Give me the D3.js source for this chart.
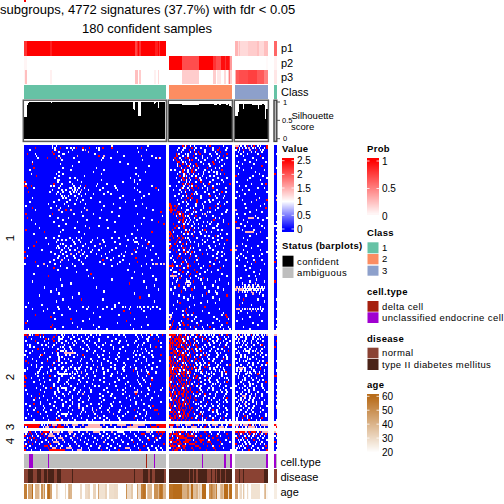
<!DOCTYPE html>
<html><head><meta charset="utf-8">
<style>html,body{margin:0;padding:0;background:#fff}svg{display:block}text{font-family:"Liberation Sans",Arial,sans-serif;fill:#000}</style>
<script src="https://cdnjs.cloudflare.com/ajax/libs/d3/7.8.5/d3.min.js"></script></head><body>
<div id="c"></div>
<script>
const titleLines=["subgroups, 4772 signatures (37.7%) with fdr < 0.05","180 confident samples"];
const sliceLabels=["1","2","3","4"];
// run-length lists: [value,count]
const p1G1=[[.8,2],[1,18],[.88,1],[1,63],[.72,1],[.85,1],[1,1],[.8,1],[1,11],[.88,2],[1,1],[.8,1],[1,4]];
const p2G1=[[.04,2],[0,105]];
const p3G1=[[.05,1],[.25,1],[0,18],[.06,1],[0,63],[.25,2],[0,1],[.2,1],[0,10],[.06,2],[0,1],[.15,1],[0,4]];
const p1G2=[[0,48]];
const p2G2=[[1,10],[.7,13],[1,11],[.8,2],[.7,4],[.95,3],[.8,1],[.95,2],[.8,1],[.4,1]];
const p3G2=[[0,10],[.2,13],[0,11],[.2,2],[0,1],[.1,3],[0,2],[.15,2],[0,1],[.2,1],[.5,1],[.2,1]];
const p1G3=[[.3,2],[.15,1],[.25,1],[.15,6],[.2,7],[.25,1],[.15,4],[.25,3]];
const p2G3=[[0,24],[.02,1]];
const p3G3=[[.3,1],[.65,2],[.7,7],[.75,7],[.65,5],[.5,3]];
const pSide=[.6,.05,.1];
const silG1=[[.6,2],[.93,1],[.96,1],[.99,16],[.97,1],[.99,61],[.82,1],[.78,1],[.99,2],[.62,2],[.99,10],[.95,1],[.97,1],[.99,1],[.85,1],[.99,4]];
const silG2=[[.95,10],[.93,13],[.95,11],[.92,3],[.95,1],[.92,2],[.95,3],[.92,2],[.95,1],[.9,1],[.87,1]];
const silG3=[[.62,2],[.72,1],[.95,3],[.8,1],[.95,6],[.92,4],[.8,1],[.92,3],[.95,1],[.92,1],[.55,1],[.82,1]];
const cellG1=[4,5,6,18,98];const cellG1Delta=[92];
const cellG2=[25,42,43,47];const cellG3=[24];
const diseaseDarkG1=[3,4,5,6,10,11,12,15,16,18,19,20,21,22,25,26,27,36,83,90,91,92,93,95,96,99,100,101,102,103,104,105];
const diseaseNormalG2=[15,18,21,29,30,31,33,34,36,39,43];
const diseaseDarkG3=[3,6,22,23,24];
const ageG1=[55,55,20,45,45,45,60,20,40,40,40,30,20,50,35,50,20,55,60,58,45,20,20,20,32,30,22,20,20,20,20,31,20,38,42,40,20,20,20,20,20,20,30,30,20,20,30,30,32,32,20,20,32,32,20,20,45,28,28,28,28,32,32,20,29,29,29,29,30,30,30,20,20,20,20,20,20,50,30,30,30,35,20,20,20,45,30,30,55,55,58,55,20,35,40,40,40,20,50,50,50,40,55,58,55,40,40];
const ageG2=[58,58,58,60,60,60,60,60,60,60,42,42,42,42,50,35,35,60,38,38,38,42,30,35,30,60,60,60,20,20,20,50,55,50,45,40,55,25,25,38,42,35,60,60,60,30,58,60];
const ageG3=[45,45,20,25,30,20,35,25,20,30,22,20,28,28,28,28,28,28,28,20,20,20,35,40,22];
// heat cells: token = column or column range, default value ~1 (white); r = high (red), p = raised (pale salmon)
const heatS1G1=["21 24 66 93","8r 21 23 27r 32 35 37 39r 44r 49r 54 56 59r 66r 85 88r","4 23 24r 36 44 46p 56 92","21r 33 26 48p 70 86","2r 8 22r 30 53 29","9 26 40p 56r 60p 75 88p 96","10 17r 24r 27p 37 59 65 99 101r 102","58 28 89","6 72 41","6r 78 27","36 94","7r 54 29 84","60 4 35","91 26 52","24 29 5 58 84","9r 45 26 86","23 38 80 34","25 40 87 26 58 83","0r 34 25 43 74 83","1 22r 36 28 55 85 62","0r 1r 5r 20 27 22 42 37 46r 54 96 68","2r 7 35 26 41 34 45 38 59 83 99r 69","36 21 43p 28 40 31 48 38 57 70 85 101","3r 42 19 34 29 25 39 63 37 87","27 41 24 35 60 52 46 65 94","38 28 43 30 74 33 90","6 40 29 31 88 50 72","39 26 44 83 34","4 42 22 32 76 57","30 38 18 46 67 89","1 24 60 33 84","6r 45 27 92 20 72","26p 8 31r 58 47p 35p 97","103r 28 66 43","21r 1r 85 37 52","19 71 44 104","2r 25 57 33 90","5 62 29 47 96","22 101r 40 68","88 8 31 105r","56 26 83 46","63 11 38 49p","29 1r 85","96r 15r 68 27 41","45 7 81","76 26","22 39 66 43 55 84 34 16 71 88","31 25 59 41 82 28 51 91 36 78","83-85 37 9r 68 24 50 60 42 94","57p 18 29 72 86 46 27 38 93r","7r 44 61 25 77 35 89 53 31 97","40 24 85 30 58 3 69 48 33 92 26","51 28 83r 13 38 95 66 34 56 43","41p 20 76 31 64 50 0r 45 84 27","81p 23 39 73 29 61 99 44 35p 54","32 71 2 47 26 91 58 37 75 42","84r 46 25 67 0r 38 101 30 62","59r 28p 41 96 22 74 33 65","8r 19 43 72 27 85r 57","0 100p 44 15p 92 36 14p 79 23 105p 99p 103 70 60 97","17 66 27 88 38 10","32 95 22r","78 25 47","39 83","7 89 50r","48 18r 97","52 81","66 27 99","6 90","79r 35","28 98","15 54 92","101 24","60 20","83 26 41","11 94","87r 36","29 59 43r","98 24","71 3","13 68","33 80 1 55 44 90 25 68 97 76 48 100 62 85 87 93 74","88 17 26 47 66 6 34 102 59 95 79","39 90 14 75r","52 22 80r","28 8r 71","57 20r 92","23 83 49 35r","77r 2 44","1r 70 36","21r 93 52 80","40 56 88 20r 29","62 3 82 23 54 43","86 0r 31 60"];
const heatS1G2=["10r 12 13r 19 31r","24 12 38r 11 17r 44","15r 33 10 37r","39r 19r 16 27","5r 20 12 36 23r 7","41r 6r 5r 14 18r 32","8 4r 25 14r 37","22 5r 9 17r 35 40","33r 7r 6r 15r 12","42 10r 6 20r 30 16","21r 8r 14r 31 15","29r 12r 9 38 18r","40r 11 1 17r 32 10r 20","26 19r 14 10r 34","42r 15p 18 12r 22 36 11","31 8r 17 13 25","23 13r 44 10r 15p 20r","33 11r 22r 9 16","41 15 24r 13","46r 17r 30r 14r 10r 36","0 27 15p 11 20r","43 9r 33r 14 17r 25","18r 12r 8 29","40r 20 9 34","21 13r 17r 38","31r 10 42 16r 24","14r 17r 36","21r 12r 30","44 21r 13 27","0r 37 14 25","6r 0r 39r 4r 1r 20","5r 31r 16 1r 26","0r 19r 4r 2r 35 1r 13","6-7r 29 1r 18 9r 43","3r 10r 5r 25 7r 15r 27p","8r 33 20r 10r 12","11r 6r 38 19","34r 8r 10r 16","15p 10r 29 41 12 18","45r 3r 31 11 22","5-6r 11r 36 25","16r 4r 11r 33 19","27r 2r 37 18r 12 15","14r 12r 0r 28 3 23","1r 39 17 11","35r 9r 0r 2r 18r 30","7r 14 33 3r 10r","44r 0r 6r 25 15 37","13r 5r 27 16","42 4r 10r 22 0","1r 35 16r 9","12r 31 0r 18","47r 3r 15p 28 7","11r 0 17r 5r 40 13r","25r 8 36 16","7r 16r 33 2 40 20","9r 6r 22r 36 1 15r","35r 12 43 3 21","19r 4 31 10r 38 13","14r 34 2r 22 9","0-3r 31r 8r 5 16r 14p 41 26 6","39r 14r 2 24 11","19r 8r 37 1 29","21r 3-5 10r 32 14 27","16r 2r 40 7 23 13","1-5p 15r 44 20 9","26r 8r 16 3 22","24 38 6 13 29","18r 35 5 13-15","45 12p 2 25 16","7r 14 33 15p","37 11 27 4 19","17r 41 1 12","35 9r 30","28r 3 36","44r 16 7 25","33 18 11","38 14","29 6","8r 35 24","19 3","27r 15","13r 38 5","12r 25 10","18r 41 2 13r 30","43r 0-1 40 14 17 10","44r 11r 34 1p 20","14r 45 0p 36 19","3r 38 17 24 9","44r 2r 21 10r 33 7","22r 8 14r 40 0 2r 11r 29","31r 39 1r 16 6r 45 19r 25","12r 34 0r 20 5r 41 8 46 26"];
// further cells read from the top of cluster 1, group 2
const heatS1G2More=["16 28 41","7 20 33","19 27 43 6","22r 9 35","31 14 44r","10 25 38","20 12r 29 44","15 27 3","24 38 10","13 34r 26","18 40 6","22 35 16","27 4 14","8 36 30 17r","26 6 39","20 34 11","28 5 37","13 24 40","7 31 20","26 12 38","17 33 5","10 29 22r","36 15 3","27 12 43","7 19 30","35 13 4","24 9 41","16 33 6","31 10 38","20 7 42","13 26 35r","9 37 18","24 14 44","31 20 12","17 40 8","28 14 5","35 15 23","41 21 13","26 7 32","14 37 19","9r 28 17","34 22 7","13 40 25","19 32 9","24 14 44","37 6 27","21 12 40","15 29 9r","34 19 8","13 25 38","22 6 30","41 16 10r","33 23 11","19 37 14","29 12 42"];
const heatS1G3=["0-2p 4 7 9r 12 14r 17 19 24r","1r 3 5 8 10p 13 15 18 22 24r","6r 0 16r 19 3 11p 21","12 2 20 6 15","17 4 9","19r 6 1","13 21","7 16","23 2 11","14 5","20r 1","12 3","22 6","15","2 18","21 0r 13","11 24","19 9","1","20 23r 12","8 3","22 17","10 5","24 1","15 7","3","18 0","5 24r 16p","12","22 7","19","8 23r","0p 16","20 11","7 1","15","2 10-13p 24 17","21 6","9 0r","18 4","20 7 12","1-3p 22","14 5","8-13p 19p","16","11","24 6","9","20","5","1p 17 8","12","0p 19 6","24 9","4 20","6 13 2 18","8 1","20 3 14","15r 9","12 22","7 1","11","8 19","14","18","15 10","4","16 2","22 11","15p 5","7 13 17 10","1p 3 5 7 9 11p 13 16 18p 20 22","0p 2 3-5p 6 8 10 11 12 14 15 17 19 21","2p 5 7 9 12p 16 19","18 13p","8 21","3","6r 17","22","5","3r 12","19","1-3p 5 7 9p 11 13 15 17 19 21","4 12p 16p 20","9 2","18","11","5","1 20","13","17","6","11"];
const heatS2G1=["0r 1r 3r 4 6 8r 9r 10r 12r 14r 24r 28 30 36 46 50 54 67 75 84 88 92 95r 100 104r","2r 14 22r 63 29 43 37 89 52 85 94","93 21r 5 26-28 47 86 98r 16r","56 1 101r 8r 31 72 84 26 44 22r","83 18 36 28 61 53 103 39","22 2 47 30 95 86 4 59 16","99r 27 7 48 85 29 74 42 21","44 10r 25 91 67 35","1 60 24r 27-29 83 36 85 96","82 30-37p 15 52 4 89","13r 44r 25 87 103r 31 0 59 84","19 37 90 56 28 2 71","43 86 6 26 69 30","1r 17r 63 24r 35 84 102 51","28 97 3r 13 65 40","58 5 21r 36 83 76","29 100 47 9 55p 80 18","41 2 74 23 84 59 33","82r 20 0 54 39 92","85 43p 10 60 25 36 99","26-32 94r 8 47 73","0r 19r 65 28 46p 41 86","89 1r 5 44 35 70 37","26 96r 57 11 85","78 0r 42 25 7 91","64 12 33 87","95r 0r 27 53 80 22","20r 28-31 104 62 9 83","37 74 1 25 85 50 103","83-85p 41 98 23 63 26","84r 2 44p 11r 29 57","101 5 36 65 24 86","8r 77 21 49 42 83","34 95 17 48","103 58 23 31","7r 84 50 19 1 36","97r 22 66 4 47 80 29","51 95 8 33 41p 76","83r 98-100r 2 44 27 54p 14 63","10r 71 25 85 46 52p 64p","28-32 87 101r 3 67p 42","84 40 5 55p 26 70","27r 89 62 1 83r 36 53","24r 25r 91 7 60 33 72 47"];
const heatS2G1More=["40 57 71 96","33 76 12 48 101 26","41 69 18 92 56 35","49 15 93 38 66 77","24 71 10 45 90 33","65 37 78 13 54 89","34 95 56 18 67 103 4","30 14 72 49 88 58","47 6 76 92 53 31","64 25 38 94 71 21","40 70 12 55 96 34","26 64 45 82 11 97","50 33 17 78 60 92","42 70 9 26 92 55","22 47 75 31 88 58","43 9 68 26 94 52","35 75 13 65 91 42","28 50 96 12 68 38","46 11 75 31 63 88","52 17 70 30 93 40","38 60 14 85 66 34","53 10 77 23 92 36","60 26 14 96 48 75","41 71 19 33 90 52","32 60 15 86 47 68","40 22 76 51 95 30","35 69 14 88 45 56","49 16 76 38 93 25","60 31 12 94 42 70","34 76 15 50 88 45","40 66 23 93 74 33","48 14 79 30 59 91","26 57 36 68 96 11","28 60 80 41 7 88","44 67 12 84 36 72","29 65 41 90 12 56","34 58 14 73 94 41","24 64 44 86 15 57","36 72 20 90 51 7","33 58 16 92 43 78","24 53 76 92 12 35","31 60 17 48 91 74","43 24 71 14 57 95","38 64 18 85 51 28"];
const heatS2G2=["0-4r 6 8-9r 12 15r 17 21r 24 30 34 38r 44r","0 2-3r 5r 7r 11-12r 16 20 23r 28 36 45","1r 4r 6-8r 10 12r 18r 14 25 39r 31","0r 2r 7-9r 15r 11 21 29r 33 41","1-3r 6r 8r 10r 13 16r 19 44 30","0r 4-5r 9 12r 14r 20r 18 27 38","2r 6-7r 10r 13r 15 42r 25","0-1r 5 11r 17r 14 32 23 40","3-4r 6 9r 18r 24r 12 35 45r","1-2r 5r 8r 13r 10 26 39 15","3r 7r 9-11r 27r 14 21 37","2r 6r 10r 12r 16r 4 29 44 19","0r 5r 13r 15r 41r 8 25 34","3r 7r 9r 14r 22r 6 17 40","0r 2r 4r 30r 12 20 35 10","1r 5r 8r 11r 18r 46r 13 26 37 21","6r 12r 14r 27r 3 19 39 9","0r 4r 7r 10r 17r 2 23 34","1r 5r 15r 25r 11 38 20 8","3r 6r 9r 16r 43r 14 28","2r 4r 10r 13r 7 19 30 40","1r 8r 11r 21r 5 32 15","0r 3r 6r 14r 29r 18 42 23","2r 7r 9r 16r 13 27 45","5r 8r 15r 44r 1 31 19","0r 11r 13r 22r 6 35 17","2r 4r 7r 12r 18r 38 14 24","1r 5r 9r 16r 10 33 47","6r 11r 13r 23r 3 29 43","0r 7r 14r 17r 2 25 40","1r 4r 9-10r 27r 18 35","3r 6r 13r 16r 5 42 22","2r 8r 12r 14r 19r 44r 0 30","4r 7r 15r 1 26 38 10","3r 5r 11r 13r 29r 41 18","0r 6r 8r 14r 32 20 12","2r 7r 10r 15r 27 4 37","1r 5r 9r 13r 17r 22 43","6r 8r 12r 16r 33r 0 30","2r 4r 15r 18r 7 36 26","3r 5r 9r 11r 23r 19 39","0r 6r 12r 14r 25r 31 8","1r 4r 7r 10r 13r 28r 41r 20","3r 9r 15r 22r 33r 0 27 46"];
const heatS2G2More=["13r 27 40 18 32","25r 9r 33 14 42","19 5r 37 27r 43","4r 12r 19r 36 25 46","11r 22 34 39 5r","16r 7r 31 2r 43","21r 0r 34 9r 28 45","3r 13r 20 37 26","15r 7r 21 31 42","19r 4r 28 36 12r","16r 5r 24 43 30","13r 0r 23r 36 41","20r 3r 30 10r 44","11r 1r 26 33 19r","6r 15r 27 39 23","3r 16r 30 44 24","10r 1r 23 36 29r","12r 20r 5r 31 41","3r 13r 22 35 42","11r 1r 24 32 40","15r 6r 25 34 43","3r 18r 27 40 13r","9r 20r 31 38 44","11r 0r 22r 36 30","3r 13r 24 37 42","9r 15r 27 39 33","10r 0r 21 32 43","13r 3r 23 41 30","16r 9r 24 33 39","11r 4r 21r 36 44","7r 13r 23 31 43","10r 1r 20 35 27","5r 16r 26 34 41","12r 2r 20r 32 43","7r 15r 24 36 44","3r 10r 22 38 28","12r 0r 24 33 41","7r 15r 25 38 31","10r 3r 21 36 44","11r 1r 24 33 41","7r 14r 25 37 44","4r 10r 21 35 43","17r 2r 25 33 39","6r 12r 25 38 43"];
const heatS2G3=["0 2r 3 5p 7 9 12r 14 17 20 22 24p","8 18p 1 15 4","13 3p 0 19","7 16 2 21","12 1 6","20r 5 14","9 2 22","16 0 11","6 8-10 19 13","17p 3 1","23 7 15","4 21 9","11 0","18 8 3","24r 1 10","13 20 4","6 16 2","3-5p 19r 12","22 7 1","11 15","17r 3 8 0","20 6","12 2","5 18 7","23r 10","13 6","16 0 11","21 5 9","14 7","24 1 10","8 4 12","5-7p 15p 2","18 0 11 7","6p 22 10 4","13 1 20 5","7p 16 3","24 8 2","19 6 10","21 1 9","13 3","23 6 11","7r 18 2","20r 5r 9","10r 1 16"];
const heatS2G3More=["10 16","5 13 21","8 17 2","12 5","17 9 3","8 19","12 4","7 20","15 2","10 20","4 19","13 7","16 3 9","21 6","13 17","9 23","11 19","1 7","14 4","3 9 18","12 22","10 2","16 7","13 21","4 17","2 20 11","7 20","14 3","10 22","5 17","15 20","11 20","4 14","13 2","8 16","10 20","14 4","1 13","12 4","8 19","15 2","9 23","12 1","5 19"];
const heatS3G1=["0-11r 13 15 17 19r 21-24p 26r 27r 30p 32p 36-40p 44p 48-56p 60p 65p 70-76p 80r 82-90p 95r 100-106r","1 3-10r 14 16-18p 22r 25-29r 33 37 42p 46-58p 62 68 73p 78-85p 92 96-99r 102-106r"];
const heatS3G2=["0-3r 5-7p 9 12-16p 18r 22 25 28r 30 33-36p 40 44 46-47r","1-2p 6r 10 13 17-20p 24 27r 31 35 38-41p 43"];
const heatS3G3=["0-2p 4 6-9p 11r 13 15p 18 20-24p","1 3r 5 8 10-14p 16 19 22"];
const heatS4G1=["0-2 4r 8 12p 14-18r 20 22-26p 28 33-36p 41 47p 52-56p 60 66p 70-74 80 86 92-94p 96 100r 102-105r","1 3r 5r 9 13r 16 19-21p 25 38 49 62 75 88-90r 101r 104r 34 44 57 68 83 95","0r 10 15r 18-22p 31 37p 59 71 84 97 103r 6 27 43 51 64 77 91","7r 23 2 26-28p 46 40p 69 58p 93 99r 4r 12 17r 35 53 63 79 86 102","94r 16 5 29p 42 73 61 9r 87 0 21 24 36 48 55 66 81 100","82r 22-25p 3r 45 60p 13 89 8 18 30 38 52 67 74 98","105r 19r 6r 33 54 78 39p 92 1 11 26 47 63 70 85","15-17r 90r 0r 28 57p 41 72 4 20 24 34 50 65 83 96 101","18r 76-79p 21-23p 32-35p 2 56 93 8 27 43 48 62 68 86 99 103","19-30r 58r 71r 87r 0r 40-43p 100 5 12 36 49 64 80 94 104"];
const heatS4G2=["0-1 3 5r 7r 9-10r 13 16r 18 20 22p 27r 31 38 42","1r 3-6r 8 12r 14r 19r 17 28r 32 44r 37","0r 2 5-10r 14-18r 24r 30r 36r 20 39","2-3r 8-13r 19r 22r 33r 6 28 45r","0-2r 5-7r 12-16r 23-26r 37r 18 30 43","3-5r 8r 11-14r 20r 24r 29-31r 39r 1 46","0r 2r 6-9r 15-19r 26r 32r 12 40","1-4r 10-12r 20-22r 29r 38r 7 33","3r 5-8r 11r 17r 23r 34r 0 41","2r 4-6r 12r 18r 28r 35r 9 47"];
const heatS4G3=["0-1r 3-7r 8p 10r 12-15r 17 19r 21-24p","2r 6r 11r 18r 23r 9 14 4 16 20","15r 3r 0 19 7 10 13 22","8r 1r 21 12 5 17","14r 4 24 2 6 9 18","7 16 3 10 20","0r 11 22 5 8 15 19","23r 9r 2 4 6 13","17 3 12 1 7 21","10r 24r 5 0 14 18"];
// side column (2 samples wide): [row, token]
const sideS1=[[4,"1"],[11,"1"],[14,"0r"],[25,"1p"],[27,"1p"],[34,"1"],[38,"1"],[40,"0-1"],[42,"1"],[45,"1"],[47,"1"],[49,"1"],[52,"1"],[54,"1"],[56,"1"],[58,"0r"],[61,"1"],[68,"0r"],[77,"1"],[82,"1"],[87,"1"],[90,"1"],[92,"1"]];
const sideS2=[[0,"0-1p"],[3,"1r"],[6,"0r"],[13,"1"],[18,"1"],[21,"0-1r"],[25,"1"],[28,"1"],[31,"1p"],[33,"1"],[36,"1"],[37,"1p"],[43,"1"]];
const sideS3=[[0,"0r 1p"],[1,"0 1r"]];
const sideS4=[[0,"0p 1"],[1,"1r"],[2,"0"],[3,"1"],[5,"0r"],[7,"1"],[9,"1"]];
const valueTicks=[0,.5,1,1.5,2,2.5];const probTicks=[0,.5,1];const ageTicks=[20,30,40,50,60];
const classNames=["1","2","3"];const classColors=["#66c2a5","#fc8d62","#8da0cb"];
const statusNames=["confident","ambiguous"];const statusColors=["#000000","#bebebe"];
const cellNames=["delta cell","unclassified endocrine cell"];const cellColors=["#a5200f","#a000d0"];
const diseaseNames=["normal","type II diabetes mellitus"];const diseaseColors=["#8a4233","#4a2318"];

const W=504;
const svg=d3.select("#c").append("svg").attr("width",W).attr("height",W).attr("viewBox",`0 0 ${W} ${W}`);
const rle=a=>a.flatMap(([v,n])=>d3.range(n).map(()=>v));
const groups=[{x0:24,x1:165.7,n:107},{x0:169,x1:231.7,n:48},{x0:235,x1:267.7,n:25},{x0:274,x1:277,n:2}];
groups.forEach(g=>g.x=d3.scaleBand().domain(d3.range(g.n)).range([g.x0,g.x1]));
const probColor=d3.scaleLinear().domain([0,1]).range(["#ffffff","#ff0000"]);
const heatColor=d3.scaleLinear().domain([0,1,2.5]).range(["#0000ff","#ffffff","#ff0000"]);
const ageColor=d3.scaleLinear().domain([20,60]).range(["#ffffff","#b86c1a"]);
const crisp=s=>s.attr("shape-rendering","crispEdges");
function colStrip(g,vals,y0,y1,col){
  const edge=g.x;
  crisp(svg.append("g").selectAll("rect").data(vals).join("rect")
    .attr("x",(d,i)=>edge(i)).attr("width",edge.bandwidth()+.4).attr("y",y0).attr("height",y1-y0)
    .attr("fill",col));
}
const pY=[[41,55.7],[56,70],[70,84.3]];
[[p1G1,p2G1,p3G1],[p1G2,p2G2,p3G2],[p1G3,p2G3,p3G3]].forEach((ps,gi)=>ps.forEach((p,i)=>colStrip(groups[gi],rle(p),pY[i][0],pY[i][1],d=>probColor(d))));
pSide.forEach((v,i)=>colStrip(groups[3],[v,v],pY[i][0],pY[i][1],d=>probColor(d)));
classColors.forEach((c,i)=>colStrip(groups[i],d3.range(groups[i].n),84.7,98.7,()=>c));
colStrip(groups[3],[0,1],84.7,98.7,()=>classColors[0]);
const silY=d3.scaleLinear().domain([0,1]).range([138.7,102]);
[silG1,silG2,silG3].forEach((s,gi)=>{
  const g=groups[gi],vals=rle(s);
  crisp(svg.append("g").selectAll("rect").data(vals).join("rect")
    .attr("x",(d,i)=>g.x(i)).attr("width",g.x.bandwidth()+.4).attr("y",d=>silY(d)).attr("height",d=>silY(0)-silY(d)).attr("fill","#000"));
  svg.append("rect").attr("x",g.x0-.7).attr("y",100.2).attr("width",g.x1-g.x0+1.4).attr("height",41.2).attr("fill","none").attr("stroke","#5a5a5a").attr("stroke-width",1.5);
});
svg.append("rect").attr("x",274).attr("y",100.2).attr("width",2.8).attr("height",41.2).attr("fill","#bbb").attr("stroke","#444").attr("stroke-width",1.4);
[[1,"1"],[.5,"0.5"],[0,"0"]].forEach(([v,t])=>{
  svg.append("line").attr("x1",277).attr("x2",280).attr("y1",silY(v)).attr("y2",silY(v)).attr("stroke","#555");
  svg.append("text").attr("x",v==.5?282:283).attr("y",silY(v)+2.7).attr("font-size",7.5).text(t);
});
const merge=(a,b)=>a.map((r,i)=>r+(b[i]?" "+b[i]:""));
const slices=[{y0:145,y1:330.3,g:[heatS1G1,merge(heatS1G2,heatS1G2More),heatS1G3],s:sideS1,n:93},{y0:334,y1:420.7,g:[merge(heatS2G1,heatS2G1More),merge(heatS2G2,heatS2G2More),merge(heatS2G3,heatS2G3More)],s:sideS2,n:44},{y0:424,y1:427.7,g:[heatS3G1,heatS3G2,heatS3G3],s:sideS3,n:2},{y0:431.3,y1:450.7,g:[heatS4G1,heatS4G2,heatS4G3],s:sideS4,n:10}];
const cellValue={r:2.5,p:1.45,"":1};
function parse(str,row){
  if(!str)return [];
  return str.trim().split(/\s+/).flatMap(t=>{
    const m=t.match(/^(\d+)(?:-(\d+))?([rp]?)$/);
    return d3.range(+m[1],(m[2]?+m[2]:+m[1])+1).map(c=>({row,col:c,v:cellValue[m[3]]}));
  });
}
slices.forEach(sl=>{
  const y=d3.scaleBand().domain(d3.range(sl.n)).range([sl.y0,sl.y1]);
  const draw=(g,cells)=>{
    crisp(svg.append("rect").attr("x",g.x0).attr("width",g.x1-g.x0).attr("y",sl.y0).attr("height",sl.y1-sl.y0).attr("fill",heatColor(0)));
    crisp(svg.append("g").selectAll("rect").data(cells).join("rect")
      .attr("x",d=>g.x(d.col)).attr("width",g.x.bandwidth()+.2).attr("y",d=>y(d.row)).attr("height",y.bandwidth()+.1).attr("fill",d=>heatColor(d.v)));
  };
  sl.g.forEach((rows,i)=>draw(groups[i],rows.flatMap((r,ri)=>parse(r,ri))));
  draw(groups[3],sl.s.flatMap(([r,t])=>parse(t,r)));
});
sliceLabels.forEach((t,i)=>{
  const cy=[238,377,427,441][i];
  svg.append("text").attr("transform",`translate(14,${cy}) rotate(-90)`).attr("text-anchor","middle").attr("font-size",11.5).text(t);
});
const greyCell="#bebebe";
colStrip(groups[0],d3.range(107).map(i=>cellG1Delta.includes(i)?cellColors[0]:(cellG1.includes(i)?cellColors[1]:greyCell)),454,468,d=>d);
colStrip(groups[1],d3.range(48).map(i=>cellG2.includes(i)?cellColors[1]:greyCell),454,468,d=>d);
colStrip(groups[2],d3.range(25).map(i=>cellG3.includes(i)?cellColors[1]:greyCell),454,468,d=>d);
colStrip(groups[3],[cellColors[1],greyCell],454,468,d=>d);
colStrip(groups[0],d3.range(107).map(i=>diseaseDarkG1.includes(i)?diseaseColors[1]:diseaseColors[0]),469,482.7,d=>d);
colStrip(groups[1],d3.range(48).map(i=>diseaseNormalG2.includes(i)?diseaseColors[0]:diseaseColors[1]),469,482.7,d=>d);
colStrip(groups[2],d3.range(25).map(i=>diseaseDarkG3.includes(i)?diseaseColors[1]:diseaseColors[0]),469,482.7,d=>d);
colStrip(groups[3],[0,1],469,482.7,()=>diseaseColors[0]);
[ageG1,ageG2,ageG3].forEach((a,i)=>colStrip(groups[i],a,484,498.7,d=>ageColor(d)));
colStrip(groups[3],[25,25],484,498.7,d=>ageColor(d));
const txt=(x,y,t,o={})=>svg.append("text").attr("x",x).attr("y",y).attr("font-size",o.s||9.5).attr("font-weight",o.b?"bold":null).attr("text-anchor",o.a||"start").attr("letter-spacing",o.l||null).text(t);
txt(0,14,titleLines[0],{s:13});
txt(147,33,titleLines[1],{s:13,a:"middle"});
[["p1",52],["p2",66.5],["p3",81],["Class",95.5]].forEach(([t,y])=>txt(281,y,t,{s:11}));
[["cell.type",466],["disease",481],["age",495.5]].forEach(([t,y])=>txt(280.5,y,t,{s:11}));
txt(291.5,119,"Silhouette",{s:9.5});txt(291,130,"score",{s:9.5});
function bar(x,y0,y1,scale,col,ticks,lx){
  const vals=d3.range(0,Math.ceil(y1-y0));
  crisp(svg.append("g").selectAll("rect").data(vals).join("rect").attr("x",x).attr("width",12).attr("y",d=>y0+d).attr("height",1.2)
    .attr("fill",d=>col(scale.invert(y0+d+.5))));
  ticks.forEach(v=>{
    const yy=scale(v);
    [[x,x+2.5],[x+9.5,x+12]].forEach(([a,b])=>svg.append("line").attr("x1",a).attr("x2",b).attr("y1",yy).attr("y2",yy).attr("stroke","#fff").attr("stroke-width",.8));
    txt(lx,yy+3.5,String(v),{s:10});
  });
}
const valueY=d3.scaleLinear().domain([0,2.5]).range([229,160.7]);
txt(282,151.7,"Value",{b:1,l:.3});
bar(282,158.3,230.7,valueY,v=>heatColor(Math.max(0,Math.min(2.5,v))),valueTicks,297);
const probY=d3.scaleLinear().domain([0,1]).range([216,161]);
txt(367,151.7,"Prob",{b:1,l:.3});
bar(367,158.3,213.5,probY,v=>probColor(Math.max(0,Math.min(1,v))),probTicks,382);
const ageY=d3.scaleLinear().domain([20,60]).range([452,396.3]);
txt(367,387.7,"age",{b:1,l:.3});
bar(367,393.5,451,ageY,v=>ageColor(Math.max(20,Math.min(60,v))),ageTicks,382);
function swatches(x,ys,names,colors){
  names.forEach((n,i)=>{
    svg.append("rect").attr("x",x+.5).attr("y",ys[i][0]).attr("width",11).attr("height",ys[i][1]-ys[i][0]).attr("fill",colors[i]);
    txt(x+15,(ys[i][0]+ys[i][1])/2+3.3,n,{s:9.5,l:.4});
  });
}
txt(282,249,"Status (barplots)",{b:1,l:.3});
swatches(282,[[255.7,266.7],[267.3,278]],statusNames,statusColors);
txt(367,235.7,"Class",{b:1,l:.3});
swatches(367,[[242.3,253.3],[254,264.3],[265.7,275.7]],classNames,classColors);
txt(367,294.7,"cell.type",{b:1,l:.3});
swatches(367,[[301,311.7],[312.3,323]],cellNames,cellColors);
txt(367,341.7,"disease",{b:1,l:.3});
swatches(367,[[347.7,358.3],[359,370]],diseaseNames,diseaseColors);
</script></body></html>
